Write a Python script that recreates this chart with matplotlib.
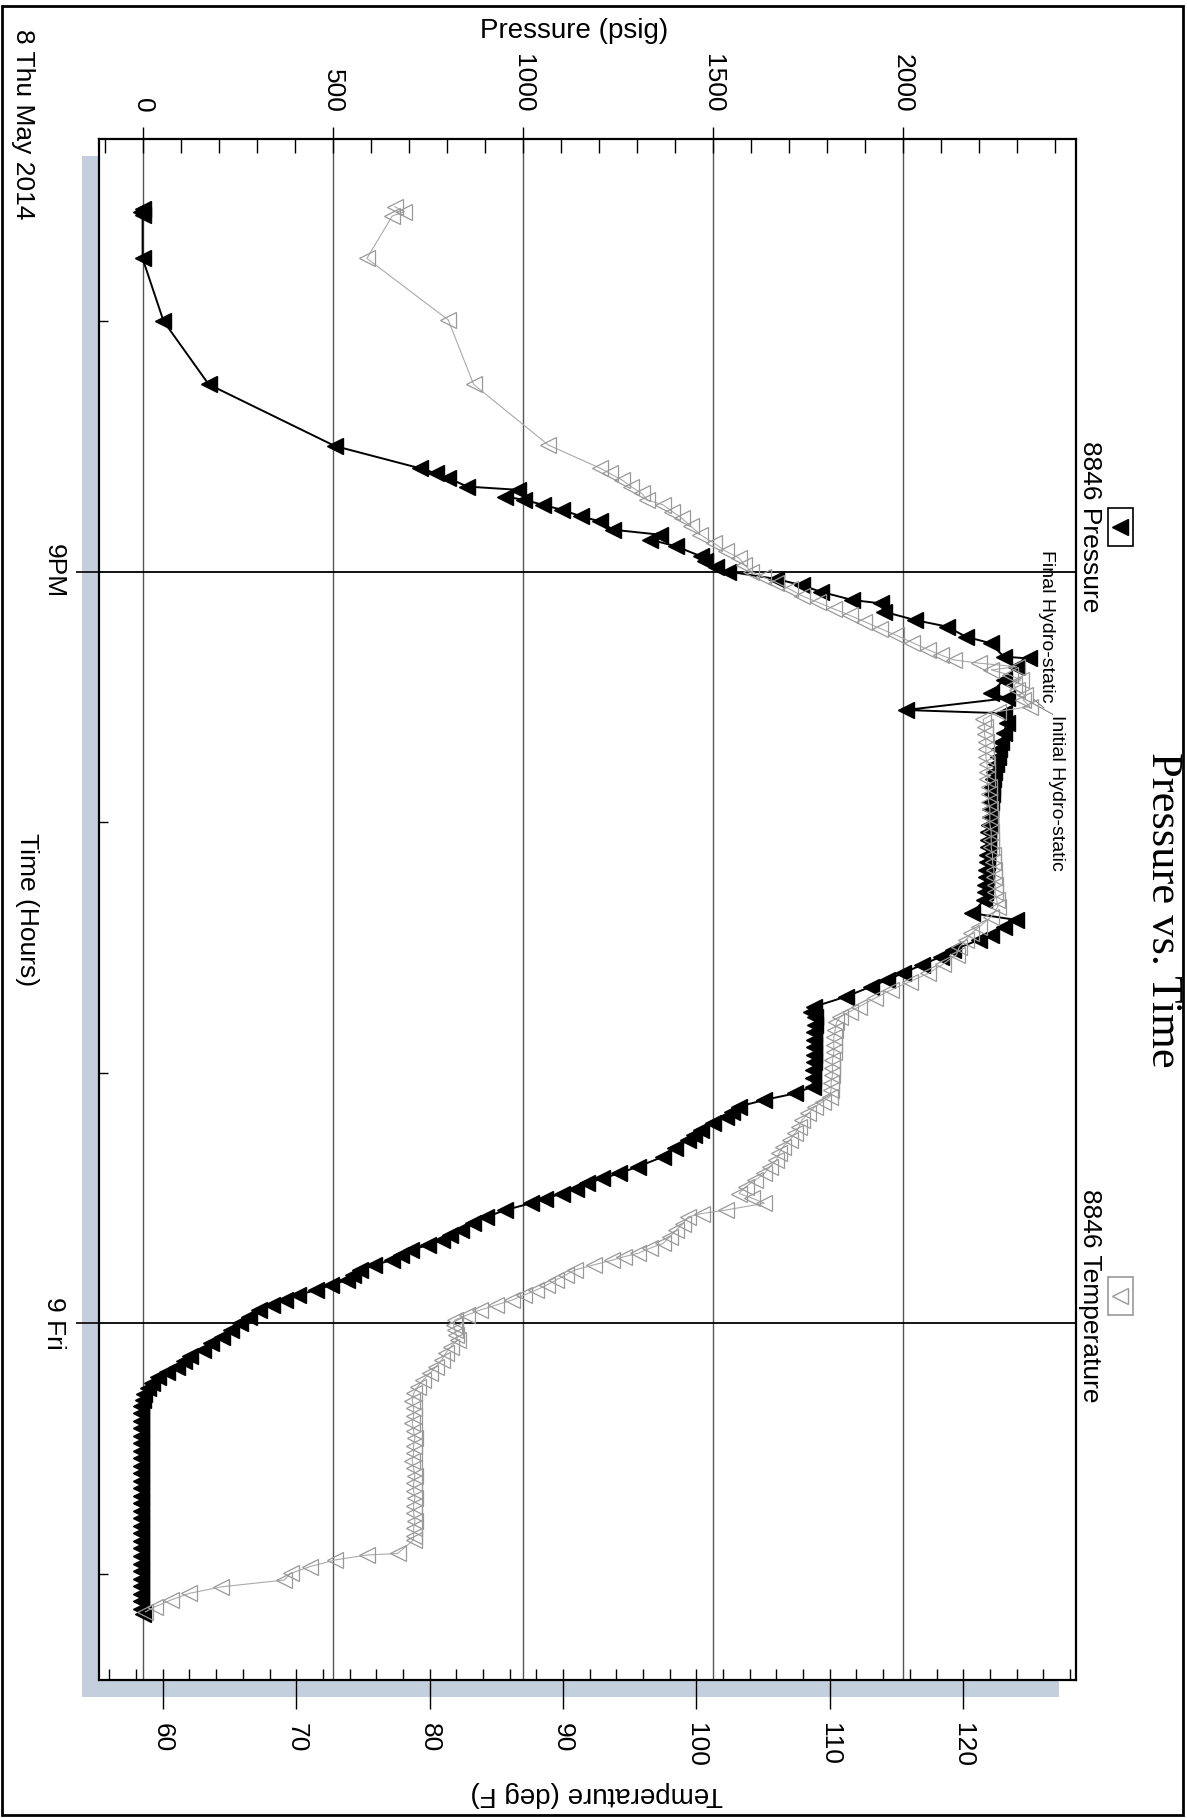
import matplotlib
matplotlib.use("Agg")
import matplotlib.pyplot as plt
from matplotlib.patches import Rectangle
from matplotlib.lines import Line2D

plt.rcParams['font.family'] = ['Liberation Sans', 'DejaVu Sans']

# time in hours from 8 May 00:00 (21 = 9PM, 24 = 9 Fri)
p_time = [19.551, 19.564, 19.577, 19.750, 20.000, 20.253, 20.499, 20.588, 20.608, 20.628,
          20.661, 20.674, 20.701, 20.714, 20.734, 20.754, 20.780, 20.800, 20.833, 20.853,
          20.873, 20.899, 20.939, 20.960, 20.981, 21.000, 21.030, 21.055, 21.081, 21.114,
          21.127, 21.160, 21.194, 21.220, 21.260, 21.287, 21.340, 21.347, 21.380, 21.433,
          21.486, 21.506, 21.553, 21.566, 21.606, 21.646, 21.680, 21.710, 21.740, 21.770,
          21.800, 21.830, 21.860, 21.890, 21.920, 21.950, 21.980, 22.010, 22.040, 22.070,
          22.100, 22.130, 22.160, 22.190, 22.220, 22.250, 22.280, 22.311, 22.364, 22.391,
          22.418, 22.451, 22.471, 22.511, 22.538, 22.571, 22.604, 22.630, 22.657, 22.697,
          22.737, 22.757, 22.780, 22.810, 22.840, 22.870, 22.900, 22.930, 22.960, 22.990,
          23.020, 23.056, 23.083, 23.110, 23.136, 23.156, 23.176, 23.203, 23.230, 23.250,
          23.270, 23.300, 23.336, 23.376, 23.403, 23.423, 23.443, 23.463, 23.483, 23.503,
          23.522, 23.549, 23.576, 23.600, 23.629, 23.649, 23.669, 23.689, 23.709, 23.729,
          23.749, 23.768, 23.788, 23.808, 23.828, 23.848, 23.868, 23.888, 23.908, 23.928,
          23.948, 23.975, 24.001, 24.028, 24.054, 24.080, 24.108, 24.130, 24.150, 24.174,
          24.194, 24.214, 24.240, 24.260, 24.285, 24.307, 24.330, 24.360, 24.390, 24.420,
          24.450, 24.480, 24.510, 24.540, 24.570, 24.600, 24.630, 24.660, 24.690, 24.720,
          24.750, 24.780, 24.810, 24.840, 24.870, 24.900, 24.930, 24.960, 24.990, 25.020,
          25.050, 25.080, 25.110, 25.140, 25.160]
p_psig = [0, -3, 0, 0, 55, 174, 506, 730, 772, 805,
          855, 988, 955, 1004, 1054, 1104, 1154, 1204, 1237, 1361,
          1336, 1403, 1469, 1480, 1510, 1540, 1668, 1735, 1785, 1868,
          1942, 1950, 2033, 2117, 2166, 2233, 2266, 2332, 2299, 2266,
          2233, 2274, 2008, 2266, 2274, 2266, 2260, 2255, 2250, 2245,
          2240, 2238, 2236, 2234, 2232, 2230, 2229, 2228, 2226, 2225,
          2224, 2222, 2221, 2220, 2219, 2218, 2217, 2215, 2183, 2299,
          2266, 2233, 2200, 2133, 2100, 2050, 2000, 1960, 1917, 1851,
          1768, 1760, 1770, 1769, 1768, 1768, 1767, 1766, 1766, 1765,
          1764, 1763, 1718, 1635, 1569, 1550, 1536, 1500, 1469, 1450,
          1436, 1400, 1370, 1303, 1253, 1210, 1170, 1140, 1104, 1060,
          1021, 955, 905, 870, 838, 810, 789, 750, 706, 680,
          656, 610, 573, 555, 539, 495, 457, 410, 374, 340,
          307, 280, 257, 232, 208, 180, 158, 125, 108, 91,
          65, 41, 25, 15, 5, 0, -3, -4, -5, -4,
          -3, -4, -5, -4, -4, -3, -5, -4, -4, -3,
          -4, -5, -4, -3, -4, -4, -5, -4, -3, -4,
          -4, -5, -4, -3, 0]

t_time = [19.544, 19.564, 19.581, 19.750, 19.996, 20.253, 20.495, 20.588, 20.608, 20.634,
          20.661, 20.688, 20.714, 20.734, 20.761, 20.787, 20.820, 20.853, 20.886, 20.919,
          20.946, 20.973, 21.000, 21.022, 21.044, 21.070, 21.097, 21.123, 21.149, 21.175,
          21.200, 21.228, 21.255, 21.284, 21.313, 21.333, 21.353, 21.366, 21.380, 21.393,
          21.413, 21.433, 21.453, 21.473, 21.493, 21.513, 21.539, 21.559, 21.590, 21.620,
          21.650, 21.680, 21.710, 21.740, 21.770, 21.800, 21.830, 21.860, 21.890, 21.920,
          21.950, 21.980, 22.010, 22.040, 22.070, 22.100, 22.130, 22.160, 22.190, 22.220,
          22.250, 22.280, 22.310, 22.338, 22.378, 22.418, 22.445, 22.471, 22.500, 22.530,
          22.567, 22.604, 22.637, 22.670, 22.703, 22.737, 22.757, 22.777, 22.800, 22.830,
          22.860, 22.890, 22.920, 22.950, 22.980, 23.010, 23.040, 23.068, 23.096, 23.116,
          23.136, 23.163, 23.190, 23.217, 23.243, 23.270, 23.296, 23.322, 23.349, 23.376,
          23.403, 23.430, 23.456, 23.483, 23.502, 23.522, 23.549, 23.563, 23.576, 23.603,
          23.629, 23.656, 23.682, 23.702, 23.722, 23.735, 23.749, 23.768, 23.788, 23.808,
          23.828, 23.848, 23.868, 23.888, 23.908, 23.928, 23.948, 23.968, 23.988, 24.008,
          24.028, 24.048, 24.068, 24.094, 24.121, 24.148, 24.174, 24.201, 24.228, 24.255,
          24.281, 24.310, 24.340, 24.370, 24.400, 24.430, 24.460, 24.490, 24.520, 24.550,
          24.580, 24.610, 24.640, 24.670, 24.700, 24.730, 24.760, 24.790, 24.820, 24.850,
          24.866, 24.920, 24.926, 24.946, 24.973, 24.999, 25.026, 25.053, 25.079, 25.106,
          25.133, 25.153]
t_degf = [77.4, 78.1, 77.2, 75.3, 81.4, 83.3, 88.9, 92.8, 93.5, 94.4,
          95.1, 95.9, 96.3, 97.5, 98.2, 98.9, 99.6, 100.3, 101.3, 102.2,
          103.2, 103.6, 104.1, 105.0, 106.0, 107.0, 107.9, 109.1, 110.3, 111.5,
          112.6, 113.8, 115.0, 116.2, 117.4, 118.3, 119.3, 121.2, 124.0, 122.1,
          123.5, 124.3, 123.8, 124.0, 124.6, 124.5, 125.0, 122.6, 121.5, 121.6,
          121.6, 121.7, 121.7, 121.7, 121.8, 121.8, 121.8, 121.9, 121.9, 121.9,
          122.0, 122.0, 122.0, 122.1, 122.1, 122.1, 122.2, 122.2, 122.3, 122.3,
          122.4, 122.4, 122.5, 122.6, 122.1, 121.2, 120.6, 120.2, 119.7, 119.5,
          118.5, 117.4, 116.0, 114.6, 113.4, 112.2, 111.5, 110.8, 110.5, 110.4,
          110.3, 110.3, 110.3, 110.2, 110.2, 110.2, 110.1, 110.1, 110.0, 109.5,
          108.9, 108.4, 107.9, 107.7, 107.4, 107.0, 106.5, 106.2, 106.0, 105.5,
          105.1, 104.4, 103.7, 103.2, 104.2, 105.1, 102.2, 100.4, 99.4, 99.0,
          98.5, 98.0, 97.5, 96.5, 95.6, 94.6, 93.7, 92.3, 90.9, 90.2,
          89.5, 88.8, 88.0, 87.1, 86.2, 85.0, 83.8, 82.8, 81.9, 81.8,
          81.9, 82.0, 82.1, 81.6, 81.2, 80.9, 80.5, 80.0, 79.5, 79.1,
          78.8, 78.7, 78.8, 78.8, 78.7, 78.8, 78.9, 78.8, 78.8, 78.7,
          78.8, 78.9, 78.8, 78.8, 78.9, 78.8, 78.8, 78.9, 78.8, 78.8,
          78.8, 77.6, 75.3, 72.9, 71.0, 69.6, 69.1, 64.4, 62.0, 60.6,
          59.4, 58.7]

p_ticks = [0, 500, 1000, 1500, 2000]
t_ticks = [60, 70, 80, 90, 100, 110, 120]
time_ticks = [21, 24]
time_labels = ['9PM', '9 Fri']
time_minor = [20, 22, 23, 25]

W, H = 1187, 1818


def fx(px):
    return px / W


def fy(py):
    return 1 - py / H


fig = plt.figure(figsize=(W / 100, H / 100), dpi=100)
fig.patch.set_facecolor('white')

# plot frame (pixels)
left, right, top, bottom = 98.5, 1075.5, 138.5, 1680
ax = fig.add_axes([fx(left), fy(bottom), fx(right) - fx(left), fy(top) - fy(bottom)])
ax.set_facecolor('white')

# drop shadow behind the frame
fig.add_artist(Rectangle((fx(left - 16.5), fy(bottom + 17)), fx(right) - fx(left), fy(top) - fy(bottom),
                         transform=fig.transFigure, facecolor='#c3cfdc', edgecolor='none', zorder=-1))
# outer border
fig.add_artist(Rectangle((fx(2), fy(1815)), fx(1183) - fx(2), fy(6) - fy(1815),
                         transform=fig.transFigure, fill=False, edgecolor='black', lw=2, zorder=10))

ax.plot(p_psig, p_time, '-', color='black', lw=1.4, marker='<', ms=12,
        mfc='black', mec='black', zorder=3)

ax2 = ax.twiny()
ax2.plot(t_degf, t_time, '-', color='#aaaaaa', lw=0.8, marker='<', ms=11,
         mfc='none', mec='#999999', mew=0.9, zorder=3)

ax.set_xlim(-116, 2455)
ax.set_ylim(25.425, 19.2715)
ax2.set_xlim(55.18, 128.42)

# pressure axis on top
ax.xaxis.set_ticks_position('top')
ax.set_xticks(p_ticks)
ax.set_xticks(list(range(-100, 2500, 100)), minor=True)
ax.xaxis.remove_overlapping_locs = False
ax.tick_params(axis='x', which='major', top=True, bottom=False, labeltop=True, labelbottom=False,
               direction='out', length=8.6, width=1, pad=10, labelsize=19, labelrotation=-90)
ax.tick_params(axis='x', which='minor', top=True, bottom=False, direction='in', length=10, width=1)
ax.grid(axis='x', which='major', color='#555555', lw=1)

# time axis
ax.set_yticks(time_ticks)
ax.set_yticklabels(time_labels)
ax.set_yticks(time_minor, minor=True)
ax.tick_params(axis='y', which='major', direction='out', length=16.5, width=1.2, pad=7, labelsize=19)
ax.tick_params(axis='y', which='minor', direction='in', length=6.5, width=1)
for lbl in ax.get_yticklabels():
    lbl.set_rotation(-90)
    lbl.set_va('center')
ax.grid(axis='y', which='major', color='black', lw=1.3)

# temperature axis at bottom
ax2.xaxis.set_ticks_position('bottom')
ax2.set_xticks(t_ticks)
ax2.set_xticks(list(range(56, 129, 2)), minor=True)
ax2.xaxis.remove_overlapping_locs = False
ax2.tick_params(axis='x', which='major', bottom=True, top=False, labelbottom=True, labeltop=False,
                direction='out', length=21, width=1, pad=10, labelsize=19, labelrotation=-90)
ax2.tick_params(axis='x', which='minor', bottom=True, top=False, direction='in', length=8, width=1)
for s in ax2.spines.values():
    s.set_visible(False)
for s in ax.spines.values():
    s.set_linewidth(1.6)

# annotations
ax.plot([2395, 2335], [21.57, 21.52], color='#777777', lw=0.7)
ax.plot([2372, 2345], [21.545, 21.51], color='#777777', lw=0.7)
ax.text(2380, 20.914, 'Final Hydro-static', rotation=-90, va='top', ha='center', fontsize=14)
ax.text(2404, 21.573, 'Initial Hydro-static', rotation=-90, va='top', ha='center', fontsize=14)

# axis labels and title
fig.text(fx(574), fy(31), 'Pressure (psig)', ha='center', va='center', fontsize=20)
fig.text(fx(27), fy(910), 'Time (Hours)', ha='center', va='center', rotation=-90, fontsize=19)
fig.text(fx(23), fy(29), '8 Thu May 2014', ha='center', va='top', rotation=-90, fontsize=19)
fig.text(fx(597), fy(1794), 'Temperature (deg F)', ha='center', va='center', rotation=180, fontsize=20)
fig.text(fx(1163), fy(910), 'Pressure vs. Time', ha='center', va='center', rotation=-90,
         fontsize=32, family='Liberation Serif')

# legend
legend_items = [(527, '8846 Pressure', 'black', 'black'), (1296, '8846 Temperature', 'none', '#999999')]
for ypx, label, fc, ec in legend_items:
    box_ec = 'black' if fc == 'black' else '#999999'
    fig.add_artist(Rectangle((fx(1107.5), fy(ypx + 19)), fx(25), fy(0) - fy(38),
                             transform=fig.transFigure, fill=False, edgecolor=box_ec, lw=1.2))
    fig.add_artist(Line2D([fx(1120)], [fy(ypx)], transform=fig.transFigure, marker='<', ms=11,
                          mfc=fc, mec=ec, mew=1, linestyle='none'))
    fig.text(fx(1090), fy(ypx), label, ha='center', va='center', rotation=-90, fontsize=19)

fig.savefig('out.png', dpi=100)
